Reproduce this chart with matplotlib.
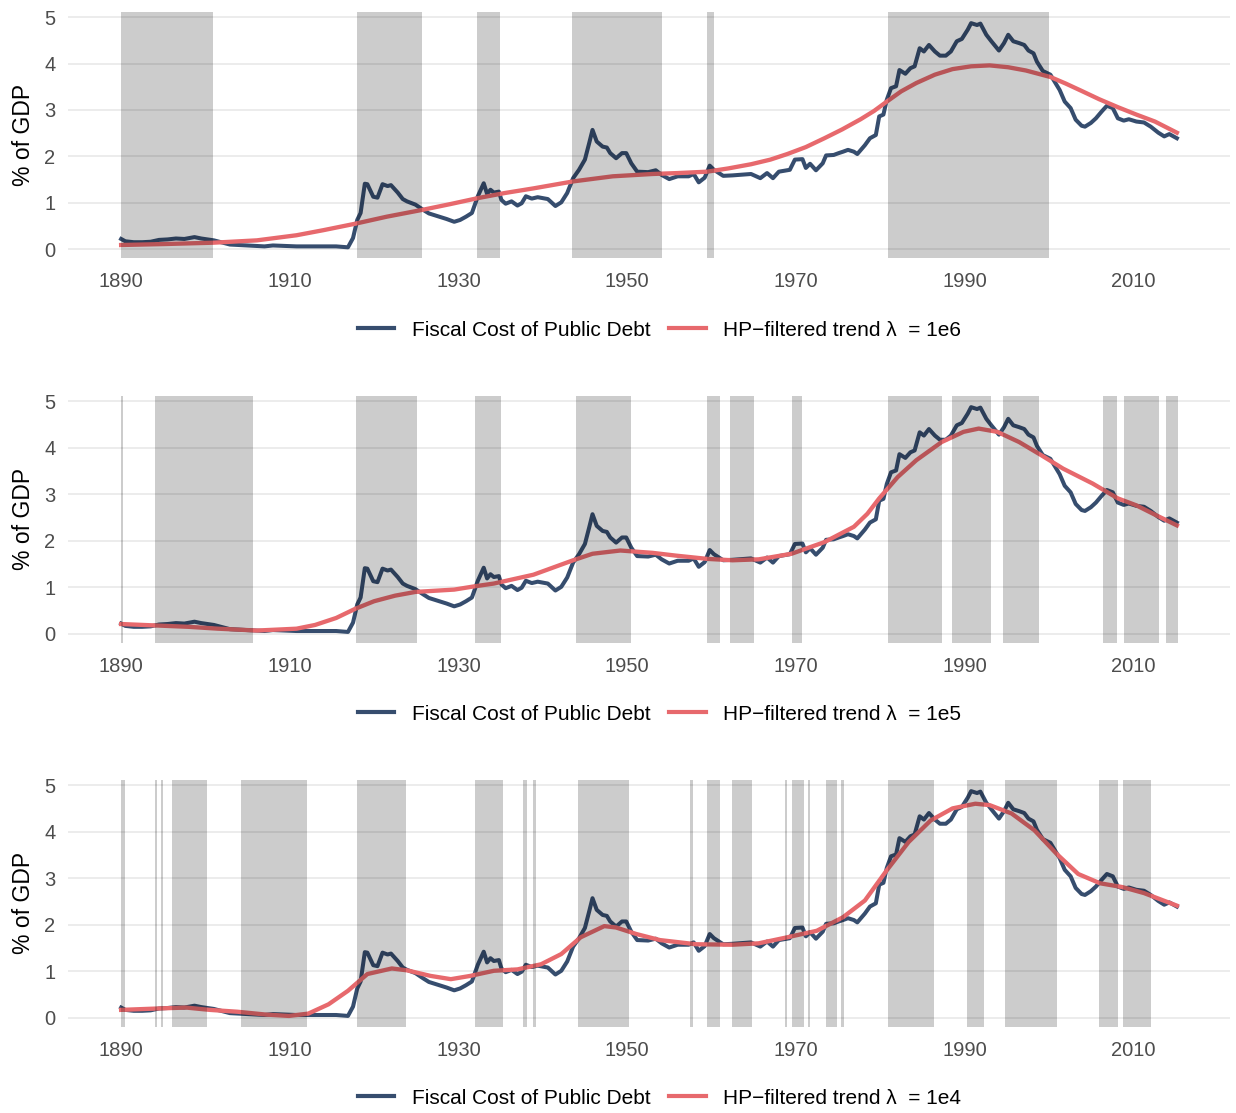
import matplotlib
matplotlib.use("Agg")
import matplotlib.pyplot as plt
from matplotlib.lines import Line2D

plt.rcParams['font.family'] = ['Liberation Sans', 'DejaVu Sans']

# ---------------- data ----------------
years = [1890.0, 1890.5, 1891.5, 1892.5, 1893.5, 1894.5, 1895.5, 1896.5, 1897.5, 1898.7,
         1899.5, 1901.0, 1902.9, 1905.0, 1907.0, 1908.0, 1910.8, 1913.0, 1915.5, 1916.9,
         1917.5, 1918.0, 1918.4, 1918.9, 1919.2, 1919.9, 1920.4, 1921.0, 1921.6, 1922.0,
         1922.8, 1923.4, 1923.9, 1924.9, 1925.8, 1926.5, 1927.7, 1928.6, 1929.5, 1930.2,
         1930.9, 1931.6, 1932.3, 1933.0, 1933.4, 1933.8, 1934.2, 1934.8, 1935.1, 1935.6,
         1936.3, 1937.0, 1937.5, 1938.0, 1938.7, 1939.4, 1940.6, 1941.5, 1942.2, 1942.9,
         1943.6, 1944.3, 1945.0, 1945.5, 1945.9, 1946.4, 1947.1, 1947.6, 1948.0, 1948.7,
         1949.4, 1949.9, 1950.5, 1951.2, 1952.5, 1953.4, 1954.1, 1955.0, 1956.0, 1957.3,
         1957.9, 1958.5, 1959.2, 1959.8, 1960.3, 1961.4, 1962.5, 1964.7, 1965.8, 1966.6,
         1967.3, 1968.0, 1969.3, 1969.9, 1970.8, 1971.2, 1971.7, 1972.4, 1973.2, 1973.6,
         1974.5, 1975.1, 1975.6, 1976.2, 1976.9, 1977.3, 1978.2, 1978.8, 1979.5, 1979.9,
         1980.4, 1980.8, 1981.3, 1981.9, 1982.3, 1983.0, 1983.6, 1984.1, 1984.7, 1985.2,
         1985.8, 1986.5, 1987.1, 1987.8, 1988.4, 1989.1, 1989.7, 1990.4, 1990.8, 1991.5,
         1991.9, 1992.6, 1993.2, 1994.1, 1994.7, 1995.2, 1995.8, 1996.5, 1997.1, 1997.6,
         1998.2, 1998.6, 1999.3, 2000.2, 2000.8, 2001.3, 2001.9, 2002.6, 2003.2, 2003.9,
         2004.3, 2005.0, 2005.6, 2006.3, 2006.9, 2007.6, 2008.2, 2008.9, 2009.5, 2010.4,
         2011.3, 2012.1, 2013.0, 2013.7, 2014.3, 2015.2]
cost = [0.22, 0.17, 0.15, 0.15, 0.16, 0.20, 0.21, 0.23, 0.22, 0.26,
        0.23, 0.19, 0.10, 0.08, 0.06, 0.08, 0.06, 0.06, 0.06, 0.04,
        0.24, 0.63, 0.78, 1.41, 1.40, 1.13, 1.11, 1.40, 1.36, 1.38,
        1.22, 1.08, 1.03, 0.96, 0.85, 0.77, 0.70, 0.65, 0.59, 0.63,
        0.70, 0.78, 1.14, 1.42, 1.19, 1.28, 1.22, 1.24, 1.06, 0.98,
        1.03, 0.94, 0.99, 1.14, 1.09, 1.12, 1.08, 0.93, 1.01, 1.21,
        1.53, 1.71, 1.93, 2.28, 2.57, 2.32, 2.21, 2.19, 2.07, 1.96,
        2.07, 2.07, 1.85, 1.67, 1.66, 1.70, 1.60, 1.51, 1.57, 1.57,
        1.62, 1.44, 1.54, 1.80, 1.71, 1.58, 1.59, 1.62, 1.53, 1.64,
        1.53, 1.67, 1.71, 1.93, 1.94, 1.75, 1.84, 1.70, 1.85, 2.02,
        2.03, 2.07, 2.10, 2.14, 2.10, 2.05, 2.24, 2.39, 2.46, 2.86,
        2.90, 3.22, 3.47, 3.51, 3.86, 3.78, 3.90, 3.94, 4.33, 4.26,
        4.40, 4.26, 4.17, 4.17, 4.26, 4.48, 4.53, 4.73, 4.87, 4.83,
        4.86, 4.62, 4.48, 4.28, 4.44, 4.62, 4.48, 4.44, 4.40, 4.28,
        4.22, 4.04, 3.84, 3.76, 3.58, 3.43, 3.18, 3.04, 2.79, 2.66,
        2.64, 2.72, 2.82, 2.97, 3.09, 3.04, 2.82, 2.77, 2.80, 2.75,
        2.73, 2.64, 2.51, 2.43, 2.48, 2.39]

trend_1e6_years = [1890, 1895, 1901, 1906.1, 1910.8, 1914, 1917.8, 1921.5, 1925.8, 1929, 1932.3,
                   1935.5, 1938.9, 1943.6, 1948.3, 1953, 1956, 1959.5, 1962, 1964.7, 1967,
                   1969, 1971.2, 1973.4, 1975.5, 1977.7, 1979.3, 1980.8, 1982.5, 1984.3,
                   1986.5, 1988.6, 1990.8, 1993, 1995.2, 1997.3, 2000.2, 2002, 2003.9,
                   2006, 2008.2, 2010.4, 2012.6, 2015.2]
trend_1e6 = [0.09, 0.11, 0.14, 0.19, 0.30, 0.41, 0.55, 0.70, 0.85, 0.97, 1.10,
             1.21, 1.31, 1.46, 1.57, 1.62, 1.64, 1.67, 1.74, 1.83, 1.93,
             2.05, 2.20, 2.39, 2.58, 2.80, 2.98, 3.18, 3.40, 3.58,
             3.76, 3.88, 3.94, 3.96, 3.92, 3.85, 3.71, 3.57, 3.41,
             3.23, 3.06, 2.90, 2.75, 2.51]

trend_1e5_years = [1890, 1894, 1898, 1901.5, 1906.1, 1910.8, 1913, 1915.5, 1917.8, 1920, 1922.5,
                   1924.9, 1929.5, 1931.9, 1934.2, 1938.9, 1943.6, 1945.9, 1949.2, 1953,
                   1955.8, 1959.5, 1962.5, 1965.6, 1969.5, 1973.4, 1976.9, 1978.5, 1979.9,
                   1982.1, 1984.3, 1987.3, 1989.9, 1991.7, 1993.9, 1996.5, 1999.1, 2001.7,
                   2005.2, 2008.2, 2010.4, 2012.6, 2015.2]
trend_1e5 = [0.21, 0.18, 0.15, 0.11, 0.07, 0.11, 0.19, 0.34, 0.54, 0.70, 0.82,
             0.90, 0.95, 1.02, 1.08, 1.27, 1.58, 1.72, 1.79, 1.74,
             1.68, 1.61, 1.58, 1.60, 1.72, 1.97, 2.30, 2.58, 2.91,
             3.37, 3.73, 4.12, 4.34, 4.41, 4.34, 4.12, 3.84, 3.55,
             3.23, 2.91, 2.76, 2.56, 2.33]

trend_1e4_years = [1890, 1894.4, 1897.7, 1900.5, 1903.8, 1907.1, 1909.9, 1912.2, 1914.6, 1916.9,
                   1919.2, 1922.1, 1923.9, 1926.7, 1929.1, 1931.4, 1934.2, 1937, 1939.8,
                   1942.2, 1944.5, 1947.3, 1948.7, 1951.1, 1953.9, 1958.2, 1962.5, 1965.6,
                   1969, 1972.5, 1975.6, 1978.2, 1980.8, 1983.4, 1986, 1988.6, 1991.3, 1993,
                   1995.6, 1998.3, 2000.9, 2003.5, 2006.1, 2008.7, 2011.3, 2015.2]
trend_1e4 = [0.17, 0.20, 0.22, 0.17, 0.13, 0.07, 0.04, 0.09, 0.29, 0.58,
             0.94, 1.06, 1.02, 0.90, 0.83, 0.90, 1.01, 1.04, 1.15,
             1.37, 1.73, 1.97, 1.94, 1.80, 1.67, 1.58, 1.57, 1.60,
             1.73, 1.87, 2.16, 2.52, 3.17, 3.78, 4.24, 4.50, 4.60, 4.57,
             4.39, 4.03, 3.53, 3.09, 2.89, 2.81, 2.68, 2.41]

periods_1e6 = [(1890.0, 1900.9), (1918.0, 1925.7), (1932.2, 1934.9), (1943.5, 1954.1),
               (1959.5, 1960.3), (1981.0, 2000.0)]
periods_1e5 = [(1890.0, 1890.2), (1894.0, 1905.6), (1917.9, 1925.1), (1932.0, 1935.1),
               (1944.0, 1950.5), (1959.5, 1961.0), (1962.2, 1965.0), (1969.5, 1970.8),
               (1981.0, 1987.3), (1988.5, 1993.2), (1994.6, 1998.8), (2006.4, 2008.1),
               (2008.9, 2013.1), (2013.9, 2015.3)]
periods_1e4 = [(1890.0, 1890.5), (1894.0, 1894.3), (1894.7, 1895.0), (1896.0, 1900.2),
               (1904.2, 1912.0), (1918.0, 1923.8), (1932.0, 1935.3), (1937.6, 1938.1),
               (1938.9, 1939.2), (1944.2, 1950.2), (1957.5, 1957.8), (1959.5, 1961.0),
               (1962.5, 1964.8), (1968.7, 1969.0), (1969.6, 1971.0), (1971.4, 1971.7),
               (1973.6, 1974.9), (1975.4, 1975.7), (1981.0, 1986.4), (1990.3, 1992.3),
               (1994.8, 2001.0), (2006.0, 2008.2), (2008.8, 2012.1)]

lambda_labels = ['1e6', '1e5', '1e4']
xticks = [1890, 1910, 1930, 1950, 1970, 1990, 2010]
yticks = [0, 1, 2, 3, 4, 5]

# ---------------- plot ----------------
BLUE = '#364D6E'
RED = '#E7696D'
GRID = '#EBEBEB'
TICK = '#4D4D4D'

fig = plt.figure(figsize=(12.36, 11.13), dpi=100)

panels = [
    (0.7682, 0.9892, trend_1e6_years, trend_1e6, periods_1e6, lambda_labels[0], 1 - 330 / 1113),
    (0.4226, 0.6442, trend_1e5_years, trend_1e5, periods_1e5, lambda_labels[1], 1 - 714 / 1113),
    (0.0776, 0.2992, trend_1e4_years, trend_1e4, periods_1e4, lambda_labels[2], 1 - 1098 / 1113),
]

left, right = 68 / 1236, 1230 / 1236
for bottom, top, ty, tv, periods, lab, leg_y in panels:
    ax = fig.add_axes([left, bottom, right - left, top - bottom])
    ax.set_xlim(1883.7, 2021.5)
    ax.set_ylim(-0.19, 5.11)
    for y in yticks:
        ax.axhline(y, color=GRID, lw=1.3, zorder=0)
    ax.plot(years, cost, color=BLUE, lw=2.9, zorder=2, solid_joinstyle='round')
    ax.plot(ty, tv, color=RED, lw=3.1, zorder=3, solid_joinstyle='round')
    for s, e in periods:
        ax.axvspan(s, e, color='black', alpha=0.2, lw=0, zorder=4)
    for sp in ax.spines.values():
        sp.set_visible(False)
    ax.set_xticks(xticks)
    ax.set_yticks(yticks)
    ax.tick_params(axis='x', length=0, labelsize=14.5, colors=TICK, pad=10)
    ax.tick_params(axis='y', length=0, labelsize=14.5, colors=TICK, pad=9)
    ax.set_ylabel('% of GDP', fontsize=16.5, color='black', labelpad=7)
    h1 = Line2D([], [], color=BLUE, lw=3)
    h2 = Line2D([], [], color=RED, lw=3)
    fig.legend([h1, h2], ['Fiscal Cost of Public Debt', 'HP\u2212filtered trend \u03bb  = ' + lab],
               loc='center', bbox_to_anchor=(0.5336, leg_y), ncol=2, frameon=False,
               fontsize=15, handlelength=1.75, handletextpad=0.85, columnspacing=0.9)

fig.savefig('out.png', dpi=100)
